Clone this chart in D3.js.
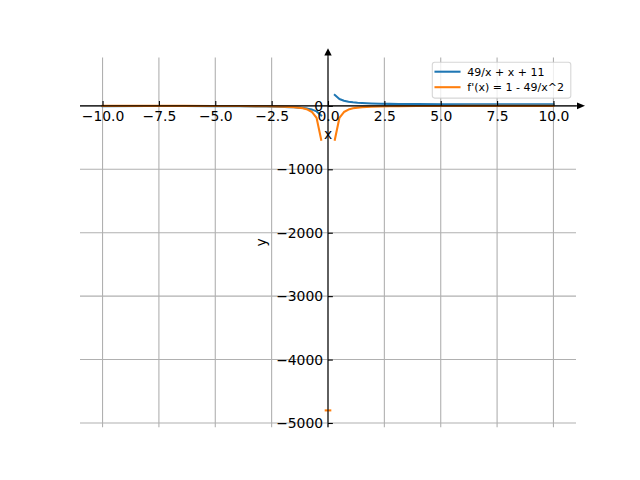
<!DOCTYPE html>
<html>
<head>
<meta charset="utf-8">
<script src="https://cdn.jsdelivr.net/npm/d3@7"></script>
<style>
  body { margin: 0; background: #fff; }
  svg text { font-family: "DejaVu Sans", sans-serif; }
</style>
</head>
<body>
<svg></svg>
<script>
// sample points (the two points next to x = 0 are only kept by the orange dip)
const xValues = [-10, -7.98, -6.364, -5.152, -3.939, -3.131, -2.727, -2.323, -1.919, -1.717, -1.515, -1.313, -1.111, -0.909, -0.707, -0.505, -0.303, -0.101,
                 0.101, 0.303, 0.505, 0.707, 0.909, 1.111, 1.313, 1.515, 1.717, 1.919, 2.323, 2.727, 3.131, 3.939, 5.152, 6.364, 7.98, 10];
const curveValues = [-3.9, -3.1, -3.1, -3.7, -5.4, -7.8, -9.7, -12.4, -16.5, -19.3, -22.9, -27.6, -34.2, -43.8, -59.0, -86.5, -151.0, null,
                     null, 173.0, 108.5, 81.0, 65.8, 56.2, 49.6, 44.9, 41.3, 38.5, 34.4, 31.7, 29.8, 27.4, 25.7, 25.1, 25.1, 25.9];
const derivValues = [0.5, 0.2, -0.2, -0.8, -2.2, -4.0, -5.6, -8.1, -12.3, -15.6, -20.3, -27.4, -38.7, -58.3, -97.0, -191.1, -532.6, null,
                     null, -532.6, -191.1, -97.0, -58.3, -38.7, -27.4, -20.3, -15.6, -12.3, -8.1, -5.6, -4.0, -2.2, -0.8, -0.2, 0.2, 0.5];
const dipX = [-0.101, 0.101];
const dipValues = [-4801.5, -4801.5];

const seriesNames = ['49/x + x + 11', "f'(x) = 1 - 49/x^2"];
const seriesColors = ['#1f77b4', '#ff7f0e'];
const xTicks = [-10, -7.5, -5, -2.5, 0, 2.5, 5, 7.5, 10];
const yTicks = [0, -1000, -2000, -3000, -4000, -5000];
const xLimits = [-11, 11];
const yLimits = [-5066.4, 761.1];

const WIDTH = 640;
const HEIGHT = 480;
const AXES = { left: 80, right: 576, top: 57.6, bottom: 427.2 };
const FONT = 13.9;
const TICK = 4.86;

const x = d3.scaleLinear().domain(xLimits).range([AXES.left, AXES.right]);
const y = d3.scaleLinear().domain(yLimits).range([AXES.bottom, AXES.top]);
const x0 = x(0);
const y0 = y(0);

const svg = d3.select('svg')
    .attr('width', WIDTH)
    .attr('height', HEIGHT);

// grid
const grid = svg.append('g')
    .attr('stroke', '#b0b0b0')
    .attr('stroke-width', 1.1);

grid.selectAll('.vgrid')
    .data(xTicks)
    .enter()
    .append('line')
    .attr('x1', d => x(d))
    .attr('x2', d => x(d))
    .attr('y1', AXES.top)
    .attr('y2', AXES.bottom);

grid.selectAll('.hgrid')
    .data(yTicks)
    .enter()
    .append('line')
    .attr('x1', AXES.left)
    .attr('x2', AXES.right)
    .attr('y1', d => y(d))
    .attr('y2', d => y(d));

// curves
const line = d3.line()
    .defined(d => d[1] !== null)
    .x(d => x(d[0]))
    .y(d => y(d[1]));

const plotArea = svg.append('g')
    .attr('fill', 'none')
    .attr('stroke-width', 2.08)
    .attr('stroke-linejoin', 'round')
    .attr('stroke-linecap', 'square');

plotArea.append('path')
    .attr('d', line(d3.zip(xValues, curveValues)))
    .attr('stroke', seriesColors[0]);

plotArea.append('path')
    .attr('d', line(d3.zip(xValues, derivValues)))
    .attr('stroke', seriesColors[1]);

plotArea.append('path')
    .attr('d', line(d3.zip(dipX, dipValues)))
    .attr('stroke', seriesColors[1]);

// spines through the origin, with arrow heads
svg.append('line')
    .attr('x1', AXES.left).attr('x2', 578)
    .attr('y1', y0).attr('y2', y0)
    .attr('stroke', '#000').attr('stroke-width', 1.1);

svg.append('line')
    .attr('x1', x0).attr('x2', x0)
    .attr('y1', AXES.bottom).attr('y2', 55)
    .attr('stroke', '#000').attr('stroke-width', 1.1);

svg.append('path')
    .attr('d', `M577,${y0 - 3.4}L585,${y0}L577,${y0 + 3.4}Z`)
    .attr('fill', '#000');

svg.append('path')
    .attr('d', `M${x0 - 3.7},55.5L${x0},48.3L${x0 + 3.7},55.5Z`)
    .attr('fill', '#000');

// axes with inward ticks
const xAxis = svg.append('g')
    .attr('transform', `translate(0, ${y0})`)
    .call(d3.axisBottom(x)
        .tickValues(xTicks)
        .tickFormat(d3.format('.1f'))
        .tickSizeInner(-TICK)
        .tickSizeOuter(0)
        .tickPadding(5.3));

const yAxis = svg.append('g')
    .attr('transform', `translate(${x0}, 0)`)
    .call(d3.axisLeft(y)
        .tickValues(yTicks)
        .tickFormat(d3.format('d'))
        .tickSizeInner(-TICK)
        .tickSizeOuter(0)
        .tickPadding(TICK));

[xAxis, yAxis].forEach(axis => {
    axis.select('.domain').remove();
    axis.attr('font-family', null).attr('font-size', FONT).attr('color', '#000');
    axis.selectAll('line').attr('stroke-width', 1.1);
});

svg.append('text')
    .attr('x', x0)
    .attr('y', 139)
    .attr('text-anchor', 'middle')
    .attr('font-size', FONT)
    .text('x');

svg.append('text')
    .attr('transform', `translate(265.5, ${(AXES.top + AXES.bottom) / 2}) rotate(-90)`)
    .attr('text-anchor', 'middle')
    .attr('font-size', FONT)
    .text('y');

// legend
const legend = svg.append('g');

legend.append('rect')
    .attr('x', 432.3)
    .attr('y', 62.3)
    .attr('width', 138.5)
    .attr('height', 35.8)
    .attr('rx', 2.5)
    .attr('fill', 'rgba(255,255,255,0.8)')
    .attr('stroke', 'rgba(204,204,204,0.8)')
    .attr('stroke-width', 1.1);

const rows = legend.selectAll('.row')
    .data(seriesNames)
    .enter()
    .append('g')
    .attr('transform', (d, i) => `translate(0, ${71.7 + i * 15.5})`);

rows.append('line')
    .attr('x1', 435.5)
    .attr('x2', 459.5)
    .attr('stroke', (d, i) => seriesColors[i])
    .attr('stroke-width', 2.08)
    .attr('stroke-linecap', 'square');

rows.append('text')
    .attr('x', 467.3)
    .attr('y', 4.2)
    .attr('font-size', 11)
    .text(d => d);
</script>
</body>
</html>
